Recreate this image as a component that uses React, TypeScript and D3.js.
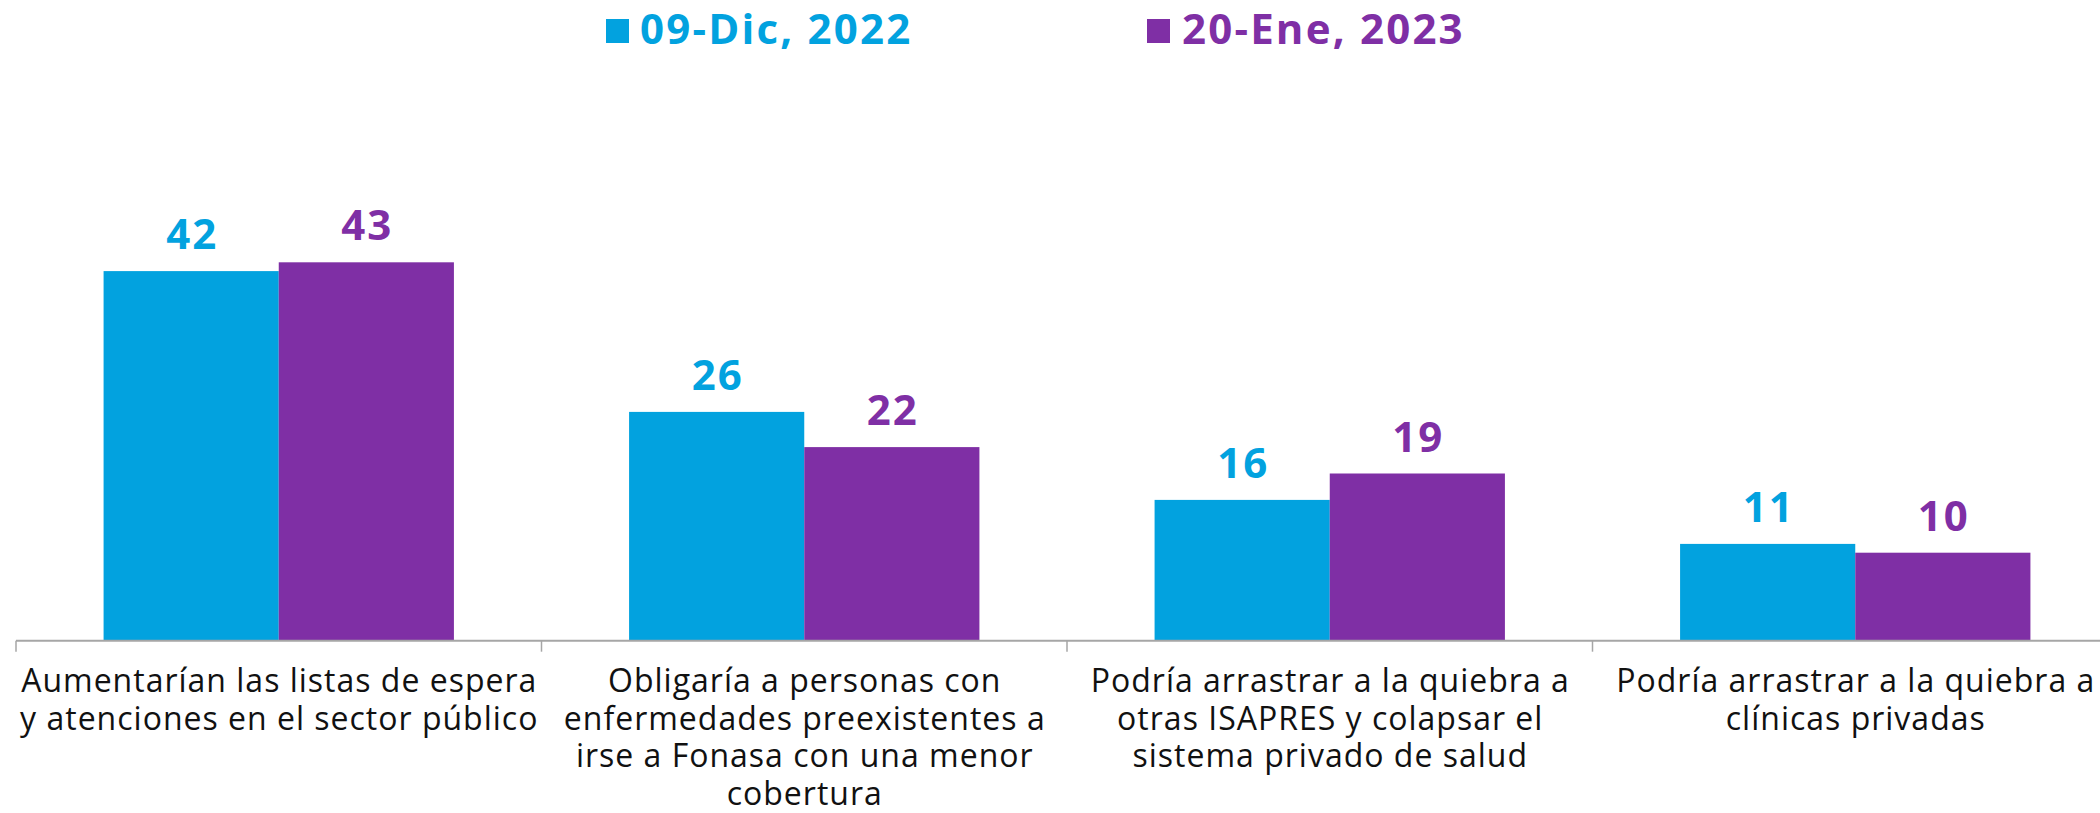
import React from "react";
import * as d3 from "d3";

const categories: string[][] = [
  ["Aumentarían las listas de espera", "y atenciones en el sector público"],
  ["Obligaría a personas con", "enfermedades preexistentes a", "irse a Fonasa con una menor", "cobertura"],
  ["Podría arrastrar a la quiebra a", "otras ISAPRES y colapsar el", "sistema privado de salud"],
  ["Podría arrastrar a la quiebra a", "clínicas privadas"],
];
const seriesNames = ["09-Dic, 2022", "20-Ene, 2023"];
const seriesDic = [42, 26, 16, 11];
const seriesEne = [43, 22, 19, 10];
const seriesValues = [seriesDic, seriesEne];
const colors = ["#02A2DF", "#7F2FA5"];

const W = 2100;
const H = 813;
const FONT = "'Open Sans', 'Noto Sans', sans-serif";

export default function App() {
  const catIdx = categories.map((_, i) => String(i));
  const x0 = d3.scaleBand<string>().domain(catIdx).range([16, 16 + 4 * 525.5]).paddingInner(0).paddingOuter(0);
  const x1 = d3.scaleBand<string>().domain(seriesNames).range([0, x0.bandwidth()]).paddingInner(0).paddingOuter(0.5);
  const y = d3.scaleLinear().domain([0, 50]).range([640.7, 200.7]);
  const base = y(0);

  const ticks = [...catIdx.map((c) => x0(c) as number), (x0(catIdx[3]) as number) + x0.bandwidth()];

  const legendPos = [
    { sx: 606, tx: 640 },
    { sx: 1147, tx: 1182 },
  ];

  const LS = 1.0;

  return (
    <svg width={W} height={H} style={{ position: "absolute", left: 0, top: 0, background: "#fff" }}>
      <rect x={0} y={0} width={W} height={H} fill="#fff" />
      {/* legend */}
      {seriesNames.map((s, i) => (
        <g key={s}>
          <rect x={legendPos[i].sx} y={19} width={23} height={24} fill={colors[i]} />
          <text x={legendPos[i].tx} y={44} fontFamily={FONT} fontWeight={700} fontSize={42} letterSpacing={2.2} fill={colors[i]}>
            {s}
          </text>
        </g>
      ))}
      {/* bars */}
      {catIdx.map((c, ci) => (
        <g key={c} transform={`translate(${x0(c)},0)`}>
          {seriesNames.map((s, si) => {
            const v = seriesValues[si][ci];
            const bx = x1(s) as number;
            return (
              <g key={s}>
                <rect x={bx} y={y(v)} width={x1.bandwidth()} height={base - y(v)} fill={colors[si]} />
                <text
                  x={bx + x1.bandwidth() / 2 + 1}
                  y={y(v) - 22}
                  textAnchor="middle"
                  fontFamily={FONT}
                  fontWeight={700}
                  fontSize={42}
                  letterSpacing={2}
                  fill={colors[si]}
                >
                  {v}
                </text>
              </g>
            );
          })}
        </g>
      ))}
      {/* axis */}
      <line x1={16} x2={W} y1={base} y2={base} stroke="#A6A6A6" strokeWidth={2} />
      {ticks.map((t, i) => (
        <line key={i} x1={t} x2={t} y1={base} y2={base + 11} stroke="#A6A6A6" strokeWidth={1.5} />
      ))}
      {/* category labels */}
      {catIdx.map((c, ci) => {
        const cx = (x0(c) as number) + x0.bandwidth() / 2 + LS / 2;
        return (
          <text
            key={c}
            x={cx}
            y={692}
            textAnchor="middle"
            fontFamily={FONT}
            fontWeight={400}
            fontSize={32}
            letterSpacing={LS}
            fill="#111"
          >
            {categories[ci].map((line, li) => (
              <tspan key={li} x={cx} y={692 + li * 37.5}>
                {line}
              </tspan>
            ))}
          </text>
        );
      })}
    </svg>
  );
}
